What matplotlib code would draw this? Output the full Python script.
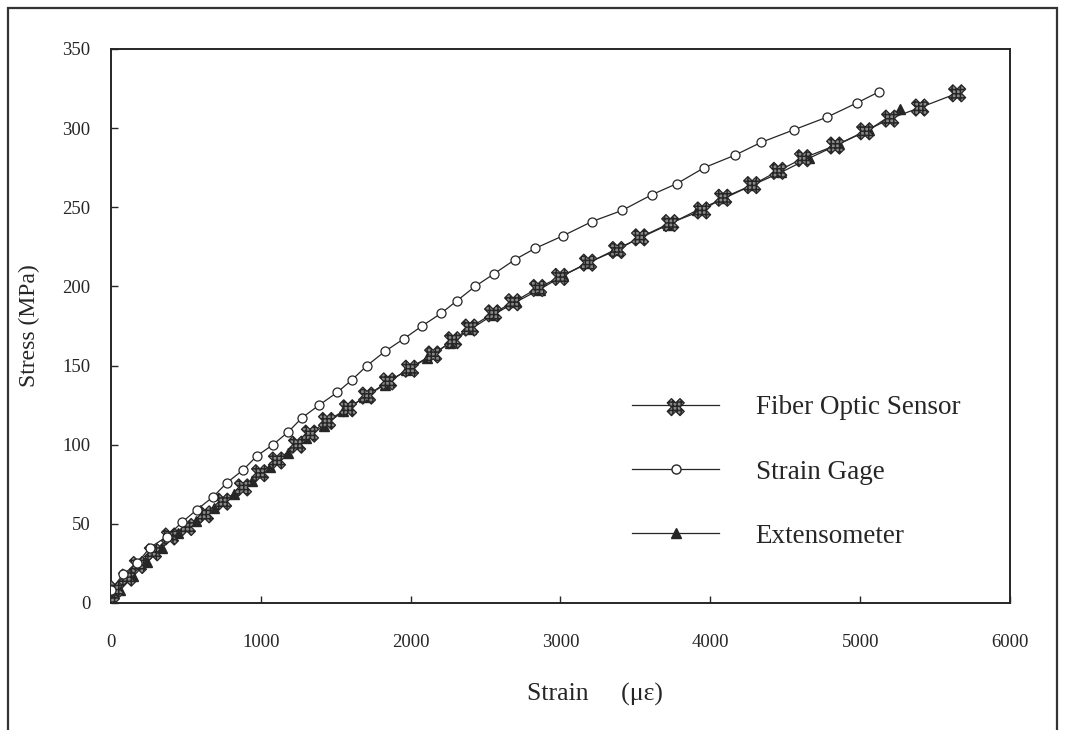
import matplotlib
matplotlib.use("Agg")
import matplotlib.pyplot as plt
from matplotlib.lines import Line2D
from matplotlib.legend_handler import HandlerTuple

# ---- data ----
gage_strain = [0, 80, 174, 260, 374, 474, 574, 681, 774, 881, 975, 1081, 1182, 1275,
               1389, 1509, 1609, 1709, 1829, 1956, 2076, 2203, 2310, 2430, 2557, 2697,
               2830, 3017, 3211, 3411, 3611, 3778, 3959, 4166, 4339, 4559, 4780, 4980, 5127]
gage_stress = [8, 18, 25, 35, 42, 51, 59, 67, 76, 84, 93, 100, 108, 117,
               125, 133, 141, 150, 159, 167, 175, 183, 191, 200, 208, 217,
               224, 232, 241, 248, 258, 265, 275, 283, 291, 299, 307, 316, 323]

fiber_strain = [0, 27, 107, 180, 280, 394, 507, 627, 748, 881, 995, 1108, 1242, 1328,
                1442, 1582, 1709, 1849, 1996, 2150, 2283, 2396, 2550, 2684, 2850, 2997,
                3184, 3378, 3531, 3732, 3945, 4085, 4279, 4453, 4619, 4833, 5033, 5200,
                5400, 5647]
fiber_stress = [0, 9, 16, 24, 32, 42, 48, 56, 64, 73, 82, 90, 100, 107,
                115, 123, 131, 140, 148, 157, 166, 174, 183, 190, 199, 206,
                215, 223, 231, 240, 248, 256, 264, 273, 281, 289, 298, 306,
                313, 322]

ext_strain = [0, 60, 150, 240, 340, 450, 570, 690, 820, 940, 1060, 1180, 1300, 1420,
              1550, 1690, 1830, 1970, 2110, 2260, 2400, 2550, 2700, 2860, 3020, 3190,
              3360, 3540, 3720, 3910, 4100, 4280, 4470, 4660, 4860, 5060, 5267]
ext_stress = [0, 8, 17, 26, 35, 44, 52, 60, 69, 77, 86, 95, 104, 112,
              121, 130, 138, 147, 155, 164, 173, 182, 190, 198, 207, 215,
              223, 231, 239, 248, 256, 264, 272, 281, 290, 299, 312]

x_ticks = [0, 1000, 2000, 3000, 4000, 5000, 6000]
y_ticks = [0, 50, 100, 150, 200, 250, 300, 350]
labels = ["Fiber Optic Sensor", "Strain Gage", "Extensometer"]

plt.rcParams['font.family'] = ['Liberation Serif', 'DejaVu Serif']
plt.rcParams['hatch.linewidth'] = 1.1

INK = '#262626'
fig = plt.figure(figsize=(10.67, 7.30), dpi=100)
ax = fig.add_axes([0.104, 0.174, 0.8426, 0.7589])

# outer frame of the figure
fig.patches.append(plt.Rectangle((8/1067, -0.01), (1057-8)/1067, 1 - 8/730 + 0.01,
                                 transform=fig.transFigure, fill=False,
                                 edgecolor='#333333', linewidth=1.6))

lw = 0.9
FIB = dict(s=150, marker='X', facecolor='#8a8a8a', edgecolor=INK, hatch='++++',
           linewidths=0.9)
# extensometer
ax.plot(ext_strain, ext_stress, color=INK, linewidth=lw, linestyle='-',
        marker='^', markersize=6.5, markerfacecolor=INK, markeredgecolor=INK, zorder=3)
# fiber optic
ax.plot(fiber_strain, fiber_stress, color=INK, linewidth=lw, zorder=3)
ax.scatter(fiber_strain, fiber_stress, zorder=4, **FIB)
# strain gage
ax.plot(gage_strain, gage_stress, color=INK, linewidth=lw, marker='o', markersize=6.5,
        markerfacecolor='white', markeredgecolor=INK, markeredgewidth=0.9, zorder=5)

ax.set_xlim(0, 6000)
ax.set_ylim(0, 350)
ax.set_xticks(x_ticks)
ax.set_yticks(y_ticks)
ax.tick_params(direction='in', length=5, width=1, labelsize=13.5, colors=INK)
ax.tick_params(axis='x', pad=22)
ax.tick_params(axis='y', pad=15)
for sp in ax.spines.values():
    sp.set_linewidth(1.4)
    sp.set_color(INK)

ax.set_xlabel("Strain     (\u03bc\u03b5)", fontsize=18.5, color=INK)
ax.xaxis.set_label_coords(0.538, -0.145)
ax.set_ylabel("Stress (MPa)", fontsize=17, color=INK, labelpad=16)

# legend
h_fiber = (Line2D([], [], color=INK, linewidth=lw),
           ax.scatter([], [], **FIB))
h_gage = Line2D([], [], color=INK, linewidth=lw, marker='o', markersize=6.5,
                markerfacecolor='white', markeredgecolor=INK)
h_ext = Line2D([], [], color=INK, linewidth=lw, marker='^', markersize=6.5,
               markerfacecolor=INK, markeredgecolor=INK)
leg = ax.legend([h_fiber, h_gage, h_ext], labels, loc='upper left',
                bbox_to_anchor=(0.58, 0.375), frameon=False, fontsize=19.5,
                handlelength=3.2, handletextpad=1.35, labelspacing=1.45,
                borderaxespad=0, borderpad=0,
                handler_map={tuple: HandlerTuple(ndivide=1, pad=0)})
for t in leg.get_texts():
    t.set_color(INK)

fig.savefig("out.png", dpi=100)
